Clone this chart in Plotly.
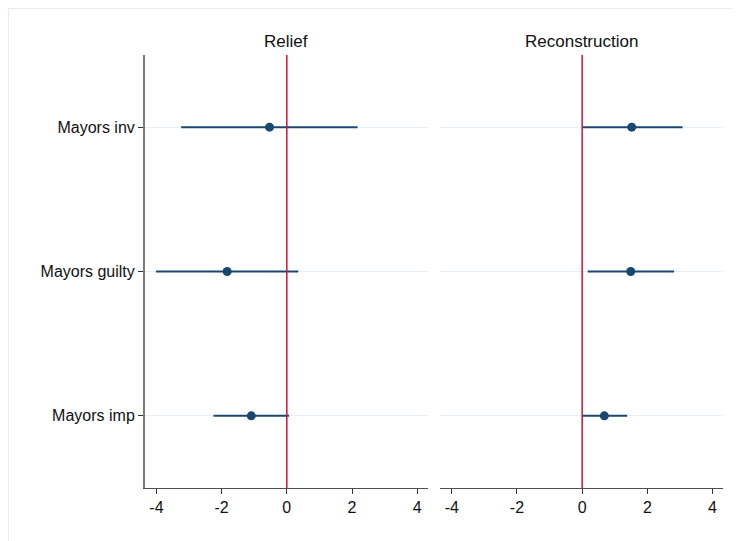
import plotly.graph_objects as go

# ---- data ----
categories = ["Mayors inv", "Mayors guilty", "Mayors imp"]
relief_est = [-0.53, -1.83, -1.09]
relief_lo = [-3.24, -4.01, -2.25]
relief_hi = [2.17, 0.35, 0.07]
recon_est = [1.52, 1.49, 0.68]
recon_lo = [0.00, 0.17, 0.00]
recon_hi = [3.08, 2.82, 1.38]
panel_titles = ["Relief", "Reconstruction"]
x_tickvals = [-4, -2, 0, 2, 4]
x_ticktext = ["-4", "-2", "0", "2", "4"]

NAVY = "#1a476f"
RED = "#c9143c"
GRID = "#e6eff3"
FONT = "Liberation Sans, Arial, Helvetica, sans-serif"

ypos = list(range(len(categories)))

# page body has an 8px margin: size the figure so the plot area lands
# where the reference has it
W, H = 733, 533
ML, MR, MT, MB = 137, 18, 47, 53

fig = go.Figure()

def add_panel(est, lo, hi, xa, ya):
    fig.add_trace(go.Scatter(
        x=est, y=ypos, mode="markers",
        marker=dict(color=NAVY, size=9),
        error_x=dict(type="data", symmetric=False,
                     array=[h - e for h, e in zip(hi, est)],
                     arrayminus=[e - l for e, l in zip(est, lo)],
                     color=NAVY, thickness=2, width=0),
        xaxis=xa, yaxis=ya, showlegend=False, hoverinfo="skip"))

add_panel(relief_est, relief_lo, relief_hi, "x", "y")
add_panel(recon_est, recon_lo, recon_hi, "x2", "y2")

xcommon = dict(range=[-4.35, 4.32], tickvals=x_tickvals, ticktext=x_ticktext,
               showline=True, linecolor="#505050", linewidth=1.3,
               ticks="outside", ticklen=5, tickcolor="#333333", tickwidth=1,
               showgrid=False, zeroline=False,
               tickfont=dict(family=FONT, size=16, color="#111111"))
ycommon = dict(range=[2.5, -0.5], tickvals=ypos, showgrid=True,
               gridcolor=GRID, gridwidth=1, zeroline=False)

fig.update_layout(
    width=W, height=H,
    margin=dict(l=ML, r=MR, t=MT, b=MB),
    paper_bgcolor="white", plot_bgcolor="white",
    font=dict(family=FONT, size=16, color="#111111"),
    xaxis=dict(domain=[0, 0.489], anchor="y", **xcommon),
    xaxis2=dict(domain=[0.511, 1.0], anchor="y2", **xcommon),
    yaxis=dict(domain=[0, 1], anchor="x", ticktext=categories,
               showline=True, linecolor="#7a7a7a", linewidth=2,
               ticks="outside", ticklen=5, tickcolor="#333333",
               tickfont=dict(family=FONT, size=16, color="#111111"),
               **ycommon),
    yaxis2=dict(domain=[0, 1], anchor="x2", showticklabels=False,
                showline=False, ticks="", **ycommon),
)

# reference lines at zero
for xr, yr in [("x", "y domain"), ("x2", "y2 domain")]:
    fig.add_shape(type="line", xref=xr, yref=yr, x0=0, x1=0, y0=0, y1=1,
                  line=dict(color=RED, width=1.5), layer="above")

# panel titles
for xr, t in [("x domain", panel_titles[0]), ("x2 domain", panel_titles[1])]:
    fig.add_annotation(text=t, xref=xr, yref="paper", x=0.5, y=1.0,
                       yanchor="bottom", yshift=2, showarrow=False,
                       font=dict(family=FONT, size=17, color="#111111"))

# faint outer frame (top and left edges of the figure)
pw = W - ML - MR
ph = H - MT - MB
fx = (0.5 - ML) / pw
fy = (ph + MT - 0.5) / ph
fig.add_shape(type="line", xref="paper", yref="paper",
              x0=fx, x1=(W - ML) / pw, y0=fy, y1=fy,
              line=dict(color="#e6edf1", width=1), layer="below")
fig.add_shape(type="line", xref="paper", yref="paper",
              x0=fx, x1=fx, y0=fy, y1=-MB / ph,
              line=dict(color="#e6edf1", width=1), layer="below")

fig.write_html("out.html")
